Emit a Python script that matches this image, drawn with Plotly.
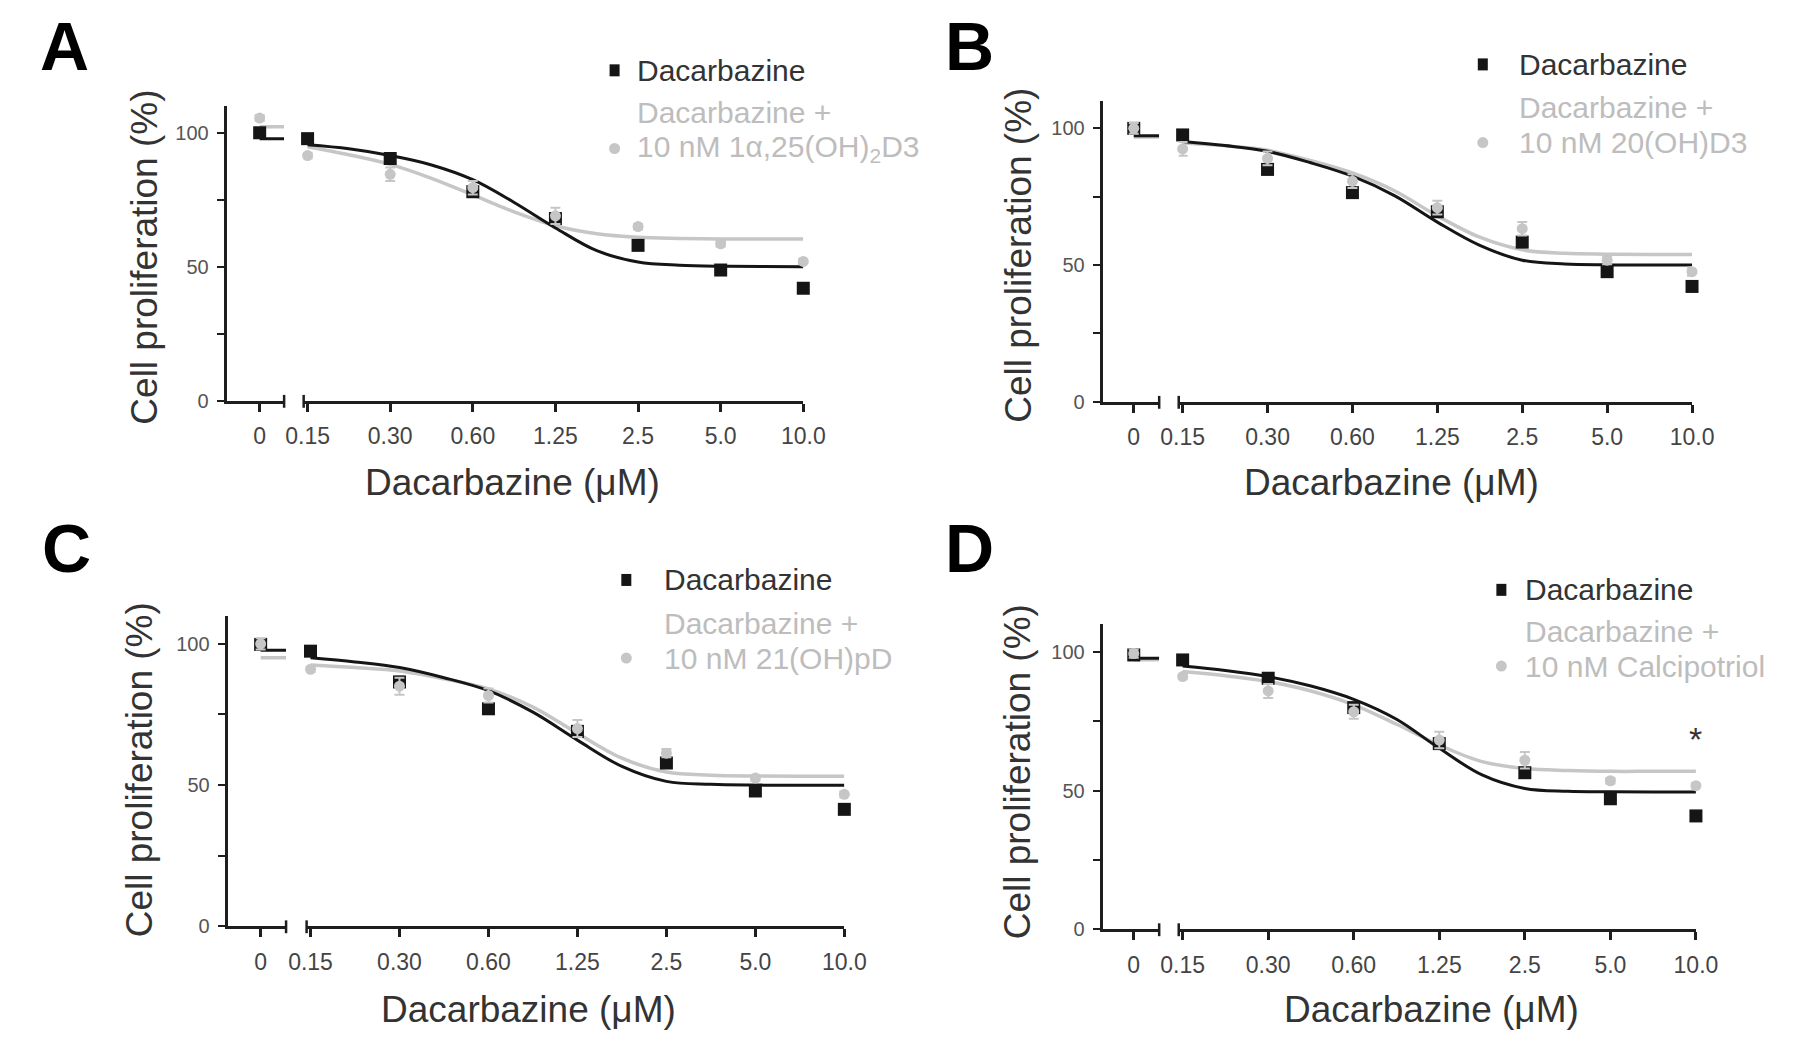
import math
import plotly.graph_objects as go

W, H = 1795, 1051

# ---- data ----
doses = [0.15625, 0.3125, 0.625, 1.25, 2.5, 5.0, 10.0]
dose_labels = ["0.15", "0.30", "0.60", "1.25", "2.5", "5.0", "10.0"]
curve_x = [0.15625, 0.221, 0.3125, 0.442, 0.625, 0.884, 1.25, 1.768, 2.5, 3.536, 5.0, 7.07, 10.0]

panel_letters = ["A", "B", "C", "D"]
combo_names = ["10 nM 1&#945;,25(OH)<sub>2</sub>D3", "10 nM 20(OH)D3",
               "10 nM 21(OH)pD", "10 nM Calcipotriol"]

# mean at 0 uM, then at each dose
dac_A = [100, 97.8, 90.4, 78, 68, 58, 48.8, 42]
combo_A = [105.5, 91.5, 84.5, 79.5, 69, 65, 58.6, 52]
dac_B = [100, 97.6, 85, 76.5, 69.5, 58.4, 47.6, 42.2]
combo_B = [100, 92.5, 89, 80.7, 71, 63.3, 51.8, 47.6]
dac_C = [99.8, 97.4, 86.5, 77, 69, 57.8, 47.9, 41.4]
combo_C = [100, 91, 85, 81.7, 70, 61.3, 52.5, 46.7]
dac_D = [99, 97.2, 90.6, 80, 67, 56.5, 47.1, 40.9]
combo_D = [99.5, 91.2, 86, 78.5, 68.3, 61, 53.6, 51.8]

dac_err = [1, 1.5, 1.8, 1.2, 1.5, 1.5, 1.5, 1.5]
combo_err_A = [1, 1, 2.5, 2.5, 3, 1, 1, 1]
combo_err_B = [2, 2.5, 2.5, 2.5, 2.5, 2.5, 1.5, 1.5]
combo_err_C = [2, 1, 3, 2.5, 3, 1.5, 1, 1]
combo_err_D = [1.5, 1, 2.5, 2.5, 3, 3, 1, 1]

# fitted curves (read at half-doubling steps)
fit_dac_A = [95.5, 94, 91.5, 88, 82.5, 74, 64.5, 56, 51.8, 50.6, 50.2, 50.1, 50]
fit_combo_A = [94.8, 91.8, 88.2, 83, 76.8, 70.5, 65.3, 62.3, 61, 60.6, 60.4, 60.4, 60.4]
fit_dac_B = [95.2, 93.7, 91.6, 87.5, 82.5, 75.3, 65.7, 57.2, 51.8, 50.4, 50.1, 50, 50]
fit_combo_B = [94.6, 93.6, 92.0, 88.3, 83.7, 77.1, 68.0, 60.2, 55.6, 54.3, 54, 53.9, 53.9]
fit_dac_C = [95.1, 93.6, 91.6, 88, 83.4, 75.8, 65.9, 56.6, 51.3, 50.3, 50, 49.9, 49.9]
fit_combo_C = [92.5, 91.6, 90.4, 87.6, 84, 77.6, 68.3, 59.5, 54.6, 53.5, 53.2, 53.1, 53.1]
fit_dac_D = [95, 93.4, 91.2, 87.8, 83, 75.8, 65.3, 55.7, 50.8, 49.8, 49.6, 49.5, 49.5]
fit_combo_D = [93, 91.5, 89.4, 86, 81, 74, 66.5, 60.5, 58, 57.3, 57, 57, 57]

# top plateau drawn in the "0" segment
top_dac = [97.8, 97.3, 97.7, 97.8]
top_combo = [102.2, 96.8, 95.1, 97.3]

star_value = 61  # "*" above the 10 uM point of panel D

dac_all = [dac_A, dac_B, dac_C, dac_D]
combo_all = [combo_A, combo_B, combo_C, combo_D]
combo_err_all = [combo_err_A, combo_err_B, combo_err_C, combo_err_D]
fit_dac_all = [fit_dac_A, fit_dac_B, fit_dac_C, fit_dac_D]
fit_combo_all = [fit_combo_A, fit_combo_B, fit_combo_C, fit_combo_D]

# ---- panel geometry in pixels ----
# yaxis x, zero tick x, seg1 end, seg2 start, x of first dose, x of 10.0, y of 0, y of 110
geo = [
    dict(ya=206, x0=239, s1=264, s2=284, xf=288, xl=795, y0=397, y110=99),
    dict(ya=1102, x0=1133, s1=1159, s2=1179, xf=1183, xl=1704, y0=398, y110=94),
    dict(ya=207, x0=240, s1=266, s2=287, xf=291, xl=837, y0=928, y110=614),
    dict(ya=1102, x0=1133, s1=1159, s2=1179, xf=1183, xl=1708, y0=931, y110=623),
]
letter_pos = [(12, 38), (938, 38), (14, 546), (938, 546)]
xtitle_pos = [(498, 480), (1397, 480), (514, 1012), (1438, 1012)]
ytitle_pos = [(121, 252), (1015, 250), (117, 770), (1015, 772)]
legend_pos = [  # symbol x, text x, line1 y, line2 y, line3 y
    (602, 623, 63, 106, 142),
    (1490, 1525, 57, 101, 136),
    (614, 651, 578, 622, 657),
    (1509, 1531, 588, 630, 665),
]

BLACK = "#151515"
GREY = "#c6c6c6"
AXIS = "#1e1e1e"
FONT = "Liberation Sans, Arial, sans-serif"


def px(x):
    return x / W


def py(y):
    return 1 - y / H


fig = go.Figure()
layout = dict(width=W, height=H, margin=dict(l=0, r=0, t=0, b=0),
              paper_bgcolor="white", plot_bgcolor="white", showlegend=False,
              font=dict(family=FONT))
shapes = []
annotations = []

for i in range(4):
    g = geo[i]
    xa1, xa2, ya = 2 * i + 1, 2 * i + 2, i + 1
    xn1 = "x" if xa1 == 1 else f"x{xa1}"
    xn2 = f"x{xa2}"
    yn = "y" if ya == 1 else f"y{ya}"

    ydom = [py(g["y0"]), py(g["y110"])]
    # zero segment: 0 at zero tick, 1 at the segment end
    lo1 = -(g["x0"] - g["ya"]) / (g["s1"] - g["x0"])
    # log segment
    ppd = (g["xl"] - g["xf"]) / (1 - math.log10(doses[0]))
    lo2 = math.log10(doses[0]) - (g["xf"] - g["s2"]) / ppd

    axis_common = dict(showline=True, linecolor=AXIS, linewidth=2.5,
                       ticks="outside", ticklen=8, tickwidth=2.5, tickcolor=AXIS,
                       showgrid=False, zeroline=False,
                       tickfont=dict(size=23, color="#444", family=FONT),
                       ticklabelstandoff=5)
    layout[f"xaxis{xa1}"] = dict(axis_common, domain=[px(g["ya"]), px(g["s1"])],
                                 range=[lo1, 1], anchor=yn,
                                 tickvals=[0], ticktext=["0"])
    layout[f"xaxis{xa2}"] = dict(axis_common, domain=[px(g["s2"]), px(g["xl"])],
                                 type="log", range=[lo2, 1], anchor=yn,
                                 tickvals=doses, ticktext=dose_labels)
    layout[f"yaxis{ya}"] = dict(showline=True, linecolor=AXIS, linewidth=2.5,
                                ticks="outside", ticklen=8, tickwidth=2, tickcolor=AXIS,
                                showgrid=False, zeroline=False,
                                domain=ydom, range=[0, 110], anchor=xn1,
                                tickvals=[0, 50, 100],
                                minor=dict(tickvals=[25, 75], ticks="outside", ticklen=8,
                                           tickwidth=2, tickcolor=AXIS, showgrid=False),
                                tickfont=dict(size=20, color="#555", family=FONT),
                                ticklabelstandoff=4)

    # fitted curves
    fig.add_trace(go.Scatter(x=curve_x, y=fit_combo_all[i], mode="lines",
                             line=dict(color=GREY, width=3.5, shape="spline"),
                             xaxis=xn2, yaxis=yn))
    fig.add_trace(go.Scatter(x=curve_x, y=fit_dac_all[i], mode="lines",
                             line=dict(color=BLACK, width=3, shape="spline"),
                             xaxis=xn2, yaxis=yn))
    fig.add_trace(go.Scatter(x=[0, 1], y=[top_combo[i]] * 2, mode="lines",
                             line=dict(color=GREY, width=3.5), xaxis=xn1, yaxis=yn))
    fig.add_trace(go.Scatter(x=[0, 1], y=[top_dac[i]] * 2, mode="lines",
                             line=dict(color=BLACK, width=3), xaxis=xn1, yaxis=yn))

    # points: zero dose on its own segment, the rest on the log segment
    for vals, errs, sym, col, size in [
        (dac_all[i], dac_err, "square", BLACK, 13),
        (combo_all[i], combo_err_all[i], "circle", GREY, 11),
    ]:
        err_style = dict(type="data", color=col, thickness=2, width=5)
        fig.add_trace(go.Scatter(x=[0], y=vals[:1], mode="markers",
                                 marker=dict(symbol=sym, size=size, color=col),
                                 error_y=dict(err_style, array=errs[:1]),
                                 cliponaxis=False, xaxis=xn1, yaxis=yn))
        fig.add_trace(go.Scatter(x=doses, y=vals[1:], mode="markers",
                                 marker=dict(symbol=sym, size=size, color=col),
                                 error_y=dict(err_style, array=errs[1:]),
                                 cliponaxis=False, xaxis=xn2, yaxis=yn))

    # axis break marks
    for bx in (g["s1"], g["s2"]):
        shapes.append(dict(type="line", xref="paper", yref="paper",
                           x0=px(bx), x1=px(bx), y0=py(g["y0"] - 6), y1=py(g["y0"] + 7),
                           line=dict(color=AXIS, width=2.5)))

    lx, ly = letter_pos[i]
    annotations.append(dict(text=f"<b>{panel_letters[i]}</b>", x=px(lx), y=py(ly),
                            xref="paper", yref="paper", xanchor="left", yanchor="middle",
                            showarrow=False, font=dict(size=68, color="black", family=FONT)))
    tx, ty = xtitle_pos[i]
    annotations.append(dict(text="Dacarbazine (\u03bcM)", x=px(tx), y=py(ty),
                            xref="paper", yref="paper", xanchor="center", yanchor="middle",
                            showarrow=False, font=dict(size=37, color="#333", family=FONT)))
    yx, yy = ytitle_pos[i]
    annotations.append(dict(text="Cell proliferation (%)", x=px(yx), y=py(yy), textangle=-90,
                            xref="paper", yref="paper", xanchor="center", yanchor="middle",
                            showarrow=False, font=dict(size=37, color="#333", family=FONT)))

    # legend
    sx, tx2, l1, l2, l3 = legend_pos[i]
    shapes.append(dict(type="rect", xref="paper", yref="paper",
                       xsizemode="pixel", ysizemode="pixel",
                       xanchor=px(sx), yanchor=py(l1), x0=-5, x1=5, y0=-6, y1=6,
                       fillcolor=BLACK, line=dict(width=0)))
    shapes.append(dict(type="circle", xref="paper", yref="paper",
                       xsizemode="pixel", ysizemode="pixel",
                       xanchor=px(sx), yanchor=py(l3), x0=-5.5, x1=5.5, y0=-5.5, y1=5.5,
                       fillcolor=GREY, line=dict(width=0)))
    for txt, yy2, col in [("Dacarbazine", l1, "#333"),
                          ("Dacarbazine +", l2, "#bdbdbd"),
                          (combo_names[i], l3, "#bdbdbd")]:
        annotations.append(dict(text=txt, x=px(tx2), y=py(yy2), xref="paper", yref="paper",
                                xanchor="left", yanchor="middle", showarrow=False,
                                font=dict(size=30, color=col, family=FONT)))

# significance mark on panel D at 10 uM (log axis -> position in log10 units)
annotations.append(dict(text="*", x=math.log10(doses[-1]), y=star_value, xref="x8", yref="y4",
                        xanchor="center", yanchor="bottom", showarrow=False,
                        font=dict(size=34, color="#333", family=FONT)))

layout["shapes"] = shapes
layout["annotations"] = annotations
fig.update_layout(**layout)
fig.write_html("out.html")
